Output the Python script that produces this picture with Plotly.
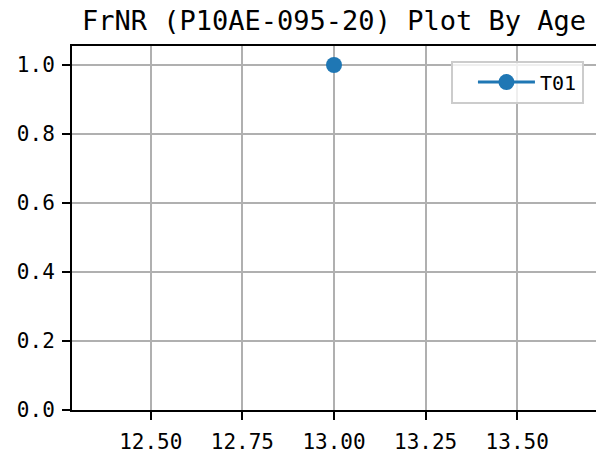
import plotly.graph_objects as go

# Series data
ages = [13.0]
frnr_t01 = [1.0]
series_name = "T01"

# Axis ticks
x_tickvals = [12.50, 12.75, 13.00, 13.25, 13.50]
x_ticktext = ["12.50", "12.75", "13.00", "13.25", "13.50"]
y_tickvals = [0.0, 0.2, 0.4, 0.6, 0.8, 1.0]
y_ticktext = ["0.0", "0.2", "0.4", "0.6", "0.8", "1.0"]

title_text = "FrNR (P10AE-095-20) Plot By Age"

FONT = "DejaVu Sans Mono"
BLUE = "#1f77b4"
GRID = "#b0b0b0"

fig = go.Figure()
fig.add_trace(go.Scatter(
    x=ages, y=frnr_t01, name=series_name,
    mode="lines+markers",
    line=dict(color=BLUE, width=3),
    marker=dict(color=BLUE, size=16),
    showlegend=True,
))

axis_common = dict(
    showgrid=True, gridcolor=GRID, gridwidth=1.8,
    showline=True, linecolor="black", linewidth=2,
    ticks="outside", ticklen=8, tickwidth=2, tickcolor="black",
    tickfont=dict(family=FONT, size=21, color="black"),
    zeroline=False,
)

fig.update_layout(
    width=596, height=458,
    margin=dict(l=72, r=0, t=46, b=48),
    paper_bgcolor="white", plot_bgcolor="white",
    title=dict(
        text=title_text,
        font=dict(family=FONT, size=27, color="black"),
        x=0.5, xref="paper", xanchor="center",
        y=1 - 21 / 458, yref="container", yanchor="middle",
    ),
    xaxis=dict(
        range=[12.285, 13.715],
        tickvals=x_tickvals, ticktext=x_ticktext,
        mirror=True, ticklabelstandoff=4,
        **axis_common,
    ),
    yaxis=dict(
        range=[0, 1.055],
        tickvals=y_tickvals, ticktext=y_ticktext,
        ticklabelstandoff=3,
        **axis_common,
    ),
    legend=dict(
        x=0.977, xanchor="right", y=0.96, yanchor="top",
        bgcolor="rgba(255,255,255,0.8)",
        bordercolor="#cccccc", borderwidth=2,
        font=dict(family=FONT, size=20, color="black"),
        itemwidth=57,
        indentation=20,
    ),
)

fig.write_html("out.html")
